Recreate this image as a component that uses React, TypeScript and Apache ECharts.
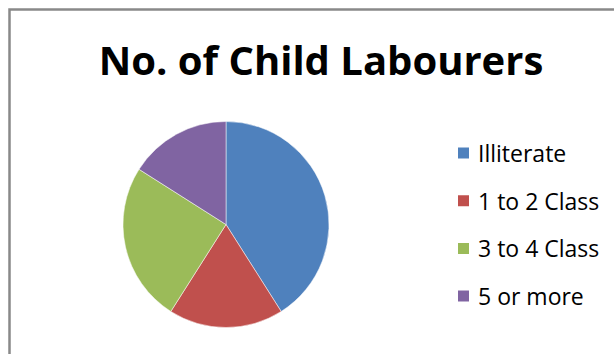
import React, { useEffect, useRef } from "react";
import * as echarts from "echarts";

const title = "No. of Child Labourers";
const categories = ["Illiterate", "1 to 2 Class", "3 to 4 Class", "5 or more"];
const values = [41, 18, 25, 16];
const colors = ["#4F81BD", "#C0504D", "#9BBB59", "#8064A2"];

export default function App() {
  const ref = useRef<HTMLDivElement>(null);
  useEffect(() => {
    if (!ref.current) return;
    const chart = echarts.init(ref.current, undefined, { renderer: "svg" });
    chart.setOption({
      animation: false,
      backgroundColor: "#ffffff",
      title: {
        text: title,
        left: 321,
        top: 39,
        textAlign: "center",
        padding: 0,
        textStyle: {
          fontFamily: "Open Sans",
          fontWeight: "bold",
          fontSize: 40,
          color: "#000000",
        },
      },
      legend: {
        orient: "vertical",
        left: 456,
        top: 141,
        itemWidth: 13,
        itemHeight: 13,
        itemGap: 23.7,
        padding: 0,
        icon: "rect",
        data: categories,
        textStyle: {
          fontFamily: "Open Sans",
          fontSize: 23,
          lineHeight: 24,
          color: "#000000",
          padding: [0, 0, 0, 3],
        },
      },
      graphic: [
        {
          type: "rect",
          shape: { x: 9.5, y: 9.5, width: 700, height: 400 },
          style: { fill: "none", stroke: "#898989", lineWidth: 2.5 },
          z: 10,
        },
      ],
      series: [
        {
          type: "pie",
          center: [226, 224.5],
          radius: 103,
          startAngle: 90,
          clockwise: true,
          label: { show: false },
          labelLine: { show: false },
          emphasis: { disabled: true },
          itemStyle: { borderColor: "#ffffff", borderWidth: 0.5 },
          data: categories.map((c, i) => ({
            name: c,
            value: values[i],
            itemStyle: { color: colors[i] },
          })),
        },
      ],
    });
    return () => chart.dispose();
  }, []);
  return (
    <div
      ref={ref}
      style={{ position: "fixed", left: 0, top: 0, width: 614, height: 354 }}
    />
  );
}
